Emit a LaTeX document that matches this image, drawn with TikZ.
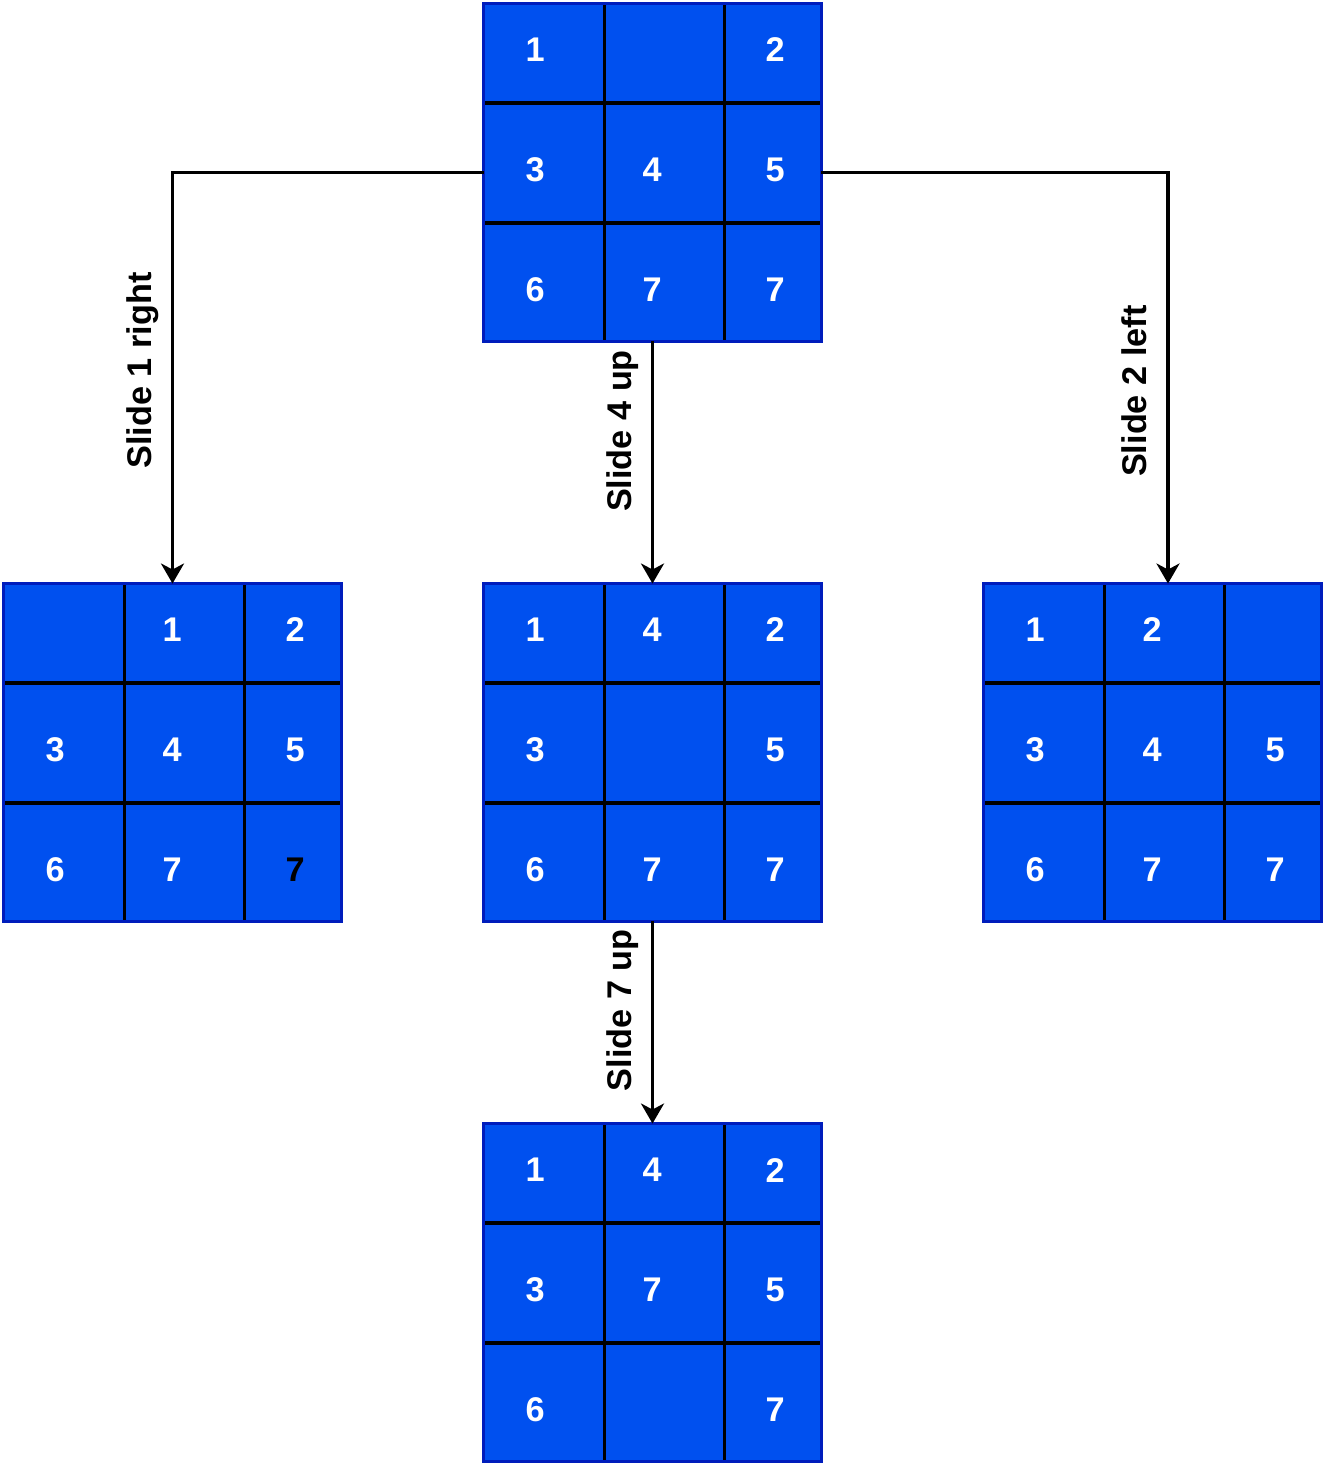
\documentclass[tikz,border=0pt]{standalone}
\usepackage{fontspec}
\setmainfont{Liberation Sans}
\usepackage{xcolor}
\usepackage{tikz}
\usetikzlibrary{arrows.meta,positioning,calc}

\definecolor{tileblue}{HTML}{0050EF}
\definecolor{tileedge}{HTML}{001DBC}

\tikzset{
    board/.style={draw=tileedge, fill=tileblue, line width=2pt, outer sep=0pt,
        minimum width=6.76cm, minimum height=6.76cm, inner sep=0pt},
    cellline/.style={black, line width=2pt},
    tile/.style={text=white, inner sep=0pt},
    move/.style={->, line width=2pt},
    lbl/.style={rotate=90, anchor=south, inner xsep=0pt, inner ysep=11pt, text depth=0pt}
}

% grid lines and numbers of one board: #1 board name, #2 list col/row/text
\newcommand{\tiles}[2]{%
    \draw[cellline] ($(#1.north west)+(121,1.5)$) -- ++(0,335);
    \draw[cellline] ($(#1.north west)+(241,1.5)$) -- ++(0,335);
    \draw[cellline] ($(#1.north west)+(1.5,99.5)$) -- ++(335,0);
    \draw[cellline] ($(#1.north west)+(1.5,219.5)$) -- ++(335,0);
    \foreach \c/\r/\t in {#2} {
        \pgfmathsetmacro{\tx}{{51.5,168.5,291.5}[\c]}
        \node[tile] (#1-\c\r) at ($(#1.north west)+(\tx,\r*120+46.5)$) {\t};
    }
}

\begin{document}
\begin{tikzpicture}[x=0.02cm, y=-0.02cm, font=\bfseries\fontsize{19.5}{22}\selectfont,
    >={Stealth[length=0.4cm, width=0.46cm, inset=0.12cm]}]
    \useasboundingbox (0,0) rectangle (1326,1466);

    % boards
    \node[board] (start) at (652.5,172.5) {};
    \node[board] (sol1) at (172.5,752.5) {};
    \node[board] (sol4) at (652.5,752.5) {};
    \node[board] (sol2) at (1152.5,752.5) {};
    \node[board] (sol7) at (652.5,1292.5) {};

    \tiles{start}{0/0/1, 2/0/2, 0/1/3, 1/1/4, 2/1/5, 0/2/6, 1/2/7, 2/2/7}
    \tiles{sol1}{1/0/1, 2/0/2, 0/1/3, 1/1/4, 2/1/5, 0/2/6, 1/2/7, 2/2/{\color{black}7}}
    \tiles{sol4}{0/0/1, 1/0/4, 2/0/2, 0/1/3, 2/1/5, 0/2/6, 1/2/7, 2/2/7}
    \tiles{sol2}{0/0/1, 1/0/2, 0/1/3, 1/1/4, 2/1/5, 0/2/6, 1/2/7, 2/2/7}
    \tiles{sol7}{0/0/1, 1/0/4, 2/0/2, 0/1/3, 1/1/7, 2/1/5, 0/2/6, 2/2/7}

    % moves
    \draw[move] (start.west) -| (sol1.north) node[lbl, pos=0.741] {Slide 1 right};
    \draw[move] (start.south) -- (sol4.north) node[lbl, pos=0.37] {Slide 4 up};
    \draw[move] (start.east) -| ([xshift=0.31cm]sol2.north) node[lbl, pos=0.766] {Slide 2 left};
    \draw[move] (sol4.south) -- (sol7.north) node[lbl, pos=0.44] {Slide 7 up};
\end{tikzpicture}
\end{document}
